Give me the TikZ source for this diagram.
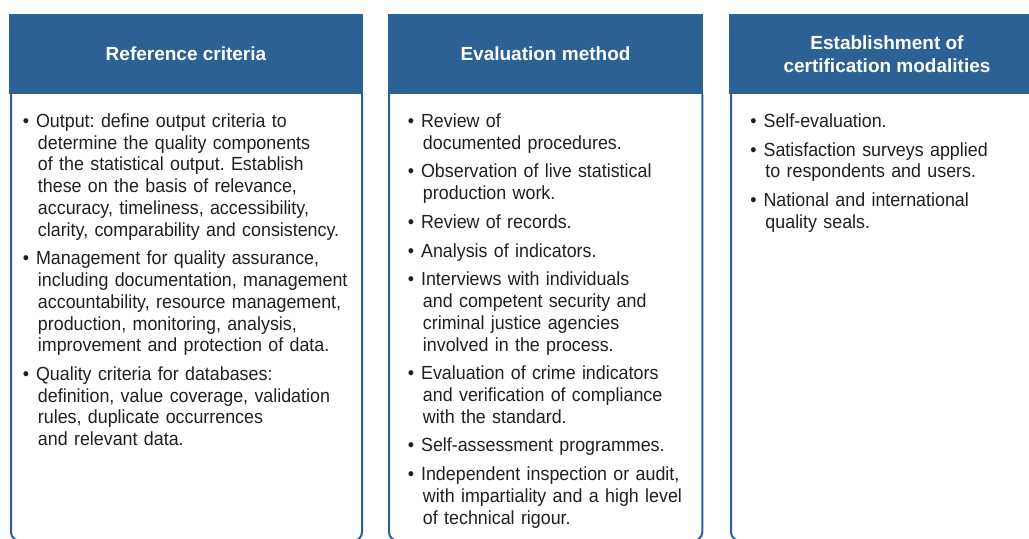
\documentclass[tikz,border=0pt]{standalone}
\usepackage{fontspec}
\setmainfont{Liberation Sans}[FakeStretch=0.94]
\newfontfamily\headfont{Liberation Sans}
\definecolor{headblue}{RGB}{43,97,149}
\definecolor{bodytext}{RGB}{35,31,32}
\newcommand\bitem{\par\hangindent=11.4pt\hangafter=1\noindent\makebox[10pt][l]{\textbullet}}
\tikzset{
  head/.style={fill=headblue, text=white, align=center, inner sep=0pt,
    minimum height=60pt, font=\headfont\bfseries\fontsize{14.25pt}{17.5pt}\selectfont},
  frame/.style={draw=headblue, line width=1.5pt, rounded corners=6.75pt},
  bullets/.style={anchor=base west, inner sep=0pt, text=bodytext, text width=280pt,
    font=\fontsize{14.25pt}{16.3pt}\selectfont,
    execute at begin node={\frenchspacing\setlength{\parskip}{5.25pt}}}
}
\begin{document}
\begin{tikzpicture}[x=0.75pt,y=-0.75pt]
        \useasboundingbox (0,0) rectangle (1029,539);
        \fill[white] (0,0) rectangle (1029,539);
        % frames
        \draw[frame] (11,94) -- (11,541) -- (362,541) -- (362,94);
        \draw[frame] (389,94) -- (389,541) -- (702.3,541) -- (702.3,94);
        \draw[frame] (731,94) -- (731,541) -- (1043,541) -- (1043,94);
        % headers
        \node[head, minimum width=265.5pt] (refhead) at (186,54) {Reference criteria};
        \node[head, minimum width=236.25pt] (evalhead) at (545.5,54) {Evaluation method};
        \node[head, minimum width=237pt] (certhead) at (887,54) {Establishment of\\certification modalities};
        % lists
        \node[bullets] (reftext) at (22.5,98.7) {%
          \bitem Output: define output criteria to\newline determine the quality components\newline of the statistical output. Establish\newline these on the basis of relevance,\newline accuracy, timeliness, accessibility,\newline clarity, comparability and consistency.
          \bitem Management for quality assurance,\newline including documentation, management\newline accountability, resource management,\newline production, monitoring, analysis,\newline improvement and protection of data.
          \bitem Quality criteria for databases:\newline definition, value coverage, validation\newline rules, duplicate occurrences\newline and relevant data.\par};
        \node[bullets] (evaltext) at (407.5,98.7) {%
          \bitem Review of\newline documented procedures.
          \bitem Observation of live statistical\newline production work.
          \bitem Review of records.
          \bitem Analysis of indicators.
          \bitem Interviews with individuals\newline and competent security and\newline criminal justice agencies\newline involved in the process.
          \bitem Evaluation of crime indicators\newline and verification of compliance\newline with the standard.
          \bitem Self-assessment programmes.
          \bitem Independent inspection or audit,\newline with impartiality and a high level\newline of technical rigour.\par};
        \node[bullets] (certtext) at (750,98.7) {%
          \bitem Self-evaluation.
          \bitem Satisfaction surveys applied\newline to respondents and users.
          \bitem National and international\newline quality seals.\par};
      \end{tikzpicture}
\end{document}
